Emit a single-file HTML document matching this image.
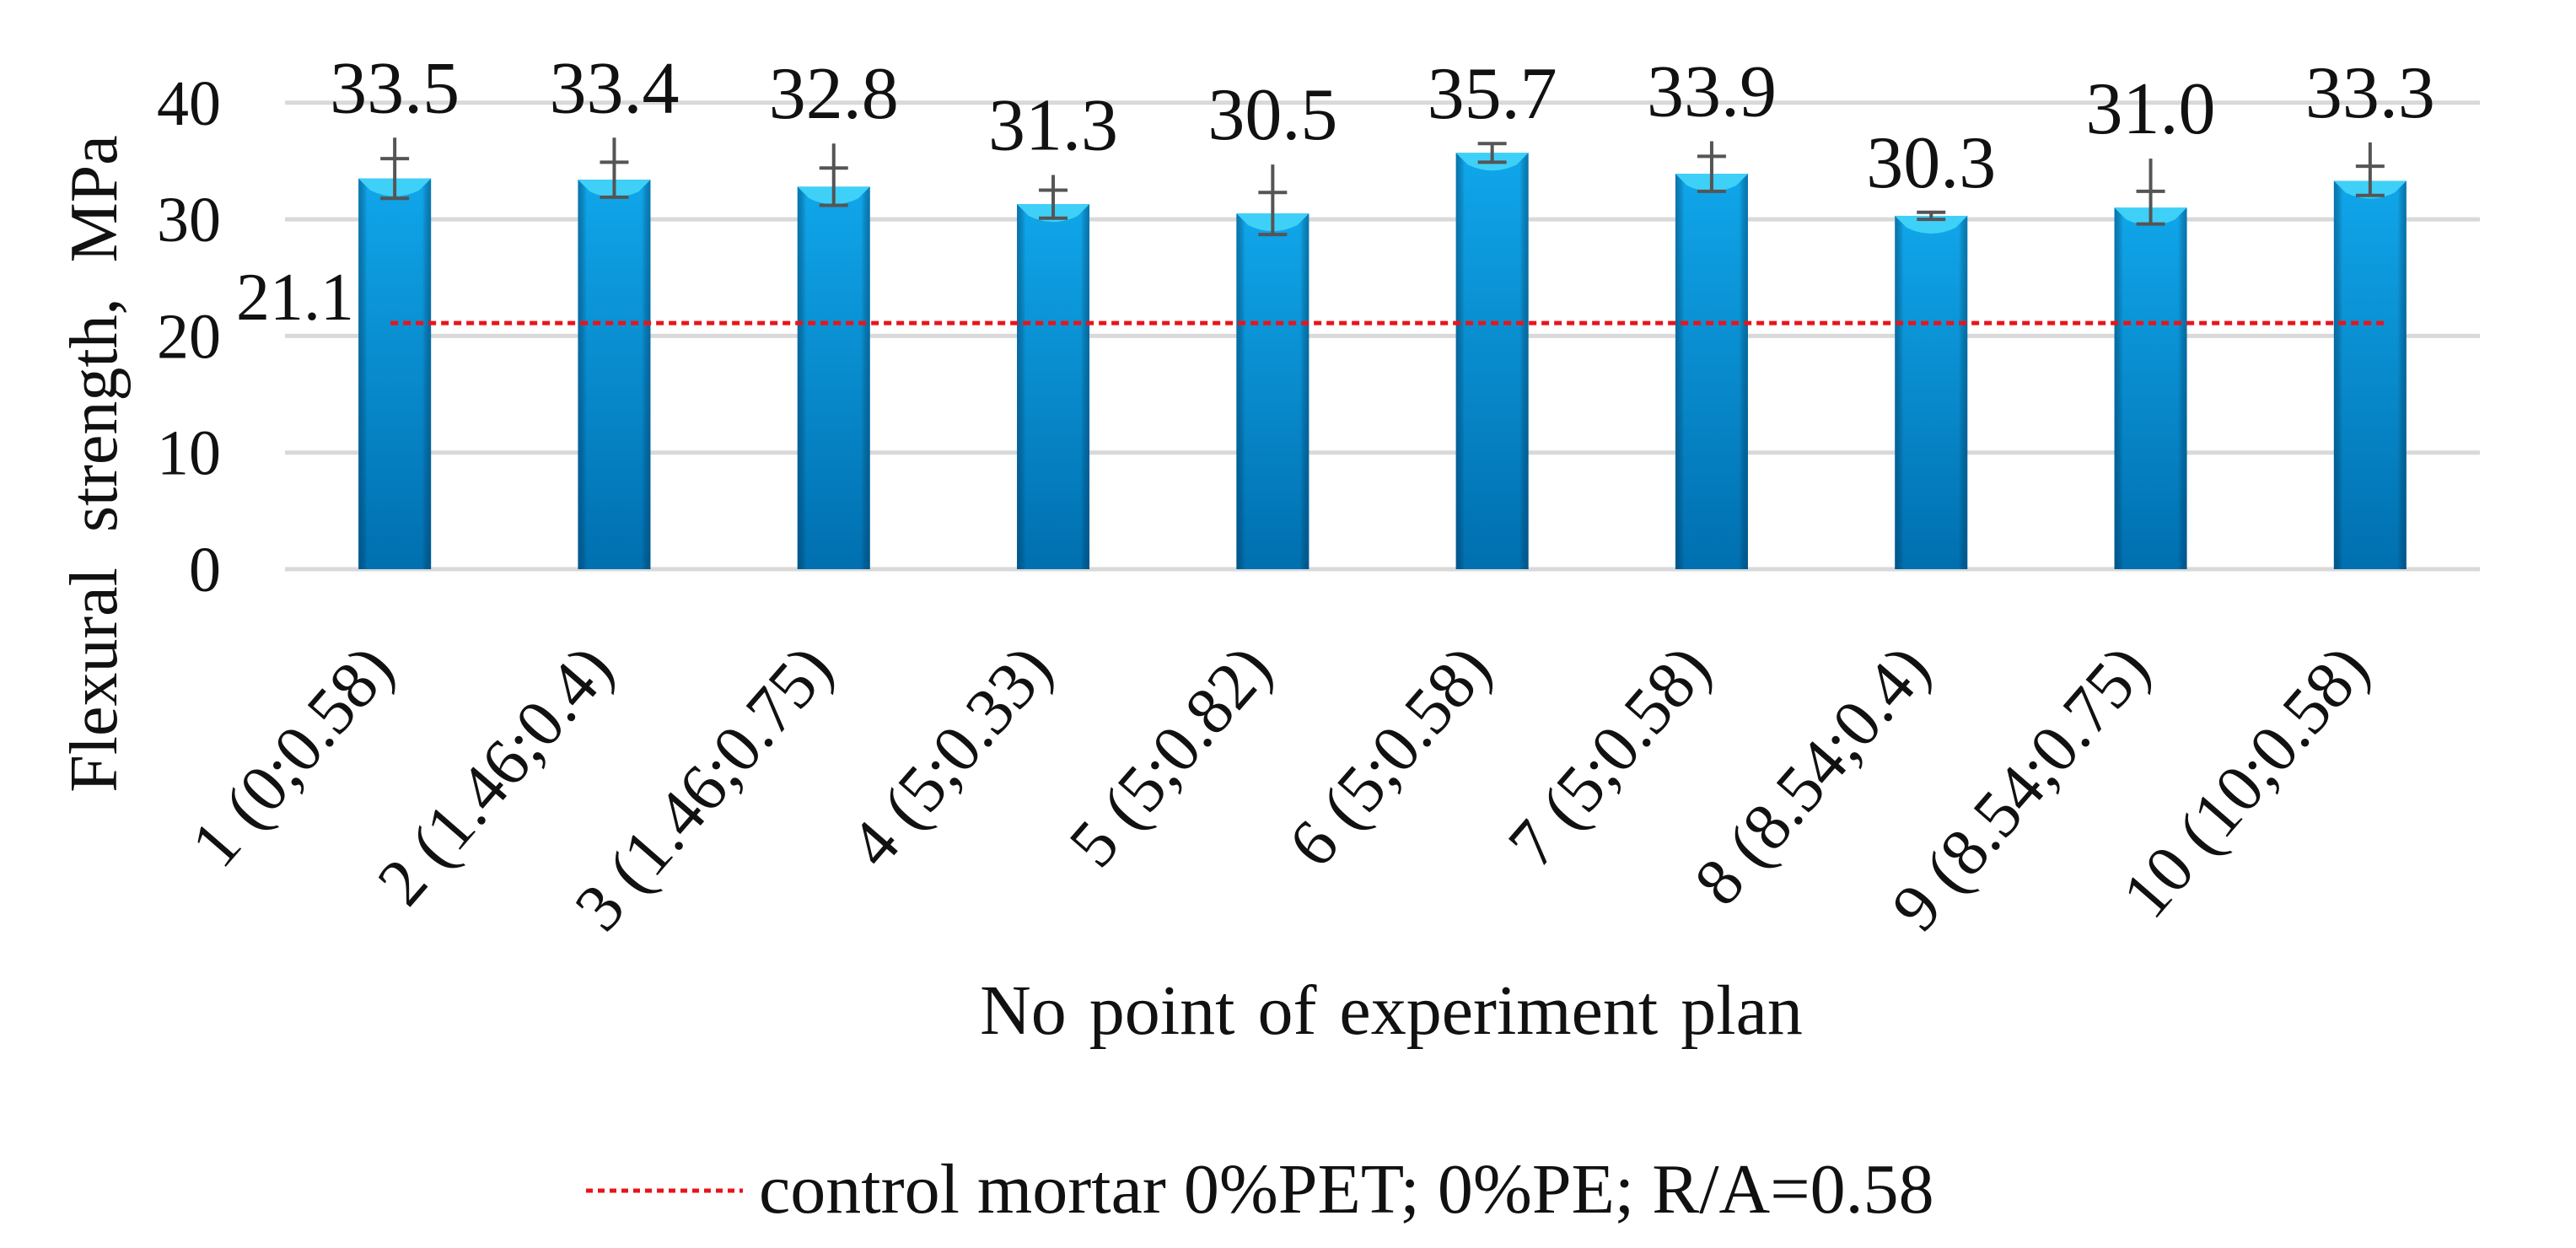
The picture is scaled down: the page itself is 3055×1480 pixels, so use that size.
<!DOCTYPE html>
<html><head><meta charset="utf-8"><style>
html,body{margin:0;padding:0;background:#fff;width:3055px;height:1480px;overflow:hidden}
svg text{font-family:"Liberation Serif",serif;fill:#111}
</style></head><body>
<svg id="chart" width="3055" height="1480" viewBox="0 0 3055 1480" xmlns="http://www.w3.org/2000/svg">
<defs>
<linearGradient id="barV" x1="0" y1="0" x2="0" y2="1">
<stop offset="0" stop-color="#10a6ea"/><stop offset="1" stop-color="#006faf"/>
</linearGradient>
<linearGradient id="barH" x1="0" y1="0" x2="1" y2="0">
<stop offset="0" stop-color="#003a66" stop-opacity="0.45"/><stop offset="0.12" stop-color="#000" stop-opacity="0"/>
<stop offset="0.88" stop-color="#000" stop-opacity="0"/><stop offset="1" stop-color="#003a66" stop-opacity="0.45"/>
</linearGradient>
</defs>
<g id="grid"></g><g id="bars"></g><g id="ctrl"></g><g id="errs"></g><g id="labels"></g>
<text transform="translate(138,550) rotate(-90)" text-anchor="middle" font-size="80" word-spacing="22">Flexural strength, MPa</text>
<text x="1650" y="1226" text-anchor="middle" font-size="84" word-spacing="6">No point of experiment plan</text>
<g>
<line x1="695" y1="1412" x2="881" y2="1412" stroke="#e8141c" stroke-width="5" stroke-dasharray="8,6"/>
<text x="900" y="1438" font-size="84">control mortar 0%PET; 0%PE; R/A=0.58</text>
</g>
</svg>
<script>
const categories=["1 (0;0.58)","2 (1.46;0.4)","3 (1.46;0.75)","4 (5;0.33)","5 (5;0.82)","6 (5;0.58)","7 (5;0.58)","8 (8.54;0.4)","9 (8.54;0.75)","10 (10;0.58)"];
const values=[33.5,33.4,32.8,31.3,30.5,35.7,33.9,30.3,31.0,33.3];
const errors=[1.7,1.5,1.6,1.2,1.8,0.8,1.5,0.3,1.4,1.25];
const stemExtra=[3.5,3.6,3.7,2.5,4.2,0.8,2.8,0.3,4.2,3.3];
const controlValue=21.1;
const yTicks=[0,10,20,30,40];
const NS="http://www.w3.org/2000/svg";
const L=338,R=2941,Y0=675,PPU=13.83;
const band=(R-L)/categories.length;
function xs(i){return L+band*(i+0.5);}
function ys(v){return Y0-v*PPU;}
function mk(tag,attrs,parent){const e=document.createElementNS(NS,tag);for(const k in attrs)e.setAttribute(k,attrs[k]);parent.appendChild(e);return e;}
const grid=document.getElementById('grid'),bars=document.getElementById('bars'),errs=document.getElementById('errs'),labels=document.getElementById('labels'),ctrl=document.getElementById('ctrl');
yTicks.forEach(t=>{
 const g=mk('line',{x1:L,x2:R,y1:ys(t),y2:ys(t),stroke:'#d9d9d9','stroke-width':5},grid);
 
 
 const tx=mk('text',{x:262,y:ys(t)+26,'text-anchor':'end','font-size':76},grid);
 tx.textContent=t;
 
 
});
const bw=86;
values.forEach((v,i)=>{
 const cx=xs(i);
 const g=mk('g',{},bars);
 
 
 mk('rect',{x:cx-bw/2,y:ys(v),width:bw,height:Y0-ys(v),fill:'url(#barV)'},g);
 mk('rect',{x:cx-bw/2,y:ys(v),width:bw,height:Y0-ys(v),fill:'url(#barH)'},g);
 mk('path',{d:`M${cx-bw/2} ${ys(v)} L${cx+bw/2} ${ys(v)} L${cx+bw/2-14} ${ys(v)+14} Q${cx} ${ys(v)+28} ${cx-bw/2+14} ${ys(v)+14} Z`,fill:'#3fd0f8'},g);
 const e=errors[i];
 const eg=mk('g',{stroke:'#555','stroke-width':4},errs);
 
 
 mk('line',{x1:cx,x2:cx,y1:ys(v-e),y2:ys(v+stemExtra[i])},eg);
 mk('line',{x1:cx-17,x2:cx+17,y1:ys(v-e),y2:ys(v-e)},eg);
 mk('line',{x1:cx-17,x2:cx+17,y1:ys(v+e),y2:ys(v+e)},eg);
 const top=Math.min(ys(v+stemExtra[i]),ys(v+e));
 const lb=mk('text',{x:cx,y:top-30,'text-anchor':'middle','font-size':88},labels);
 lb.textContent=v.toFixed(1);
 
 
 const xl=mk('text',{transform:`translate(${cx+2},795) rotate(-49)`,'text-anchor':'end','font-size':80},labels);
 xl.textContent=categories[i];
 
 
});
const cl=mk('line',{x1:xs(0)-5,x2:xs(categories.length-1)+20,y1:ys(controlValue),y2:ys(controlValue),stroke:'#e8141c','stroke-width':5,'stroke-dasharray':'9,6'},ctrl);


const ct=mk('text',{x:420,y:ys(controlValue)-4,'text-anchor':'end','font-size':80},ctrl);
ct.textContent=controlValue.toFixed(1);


</script>
</body></html>
